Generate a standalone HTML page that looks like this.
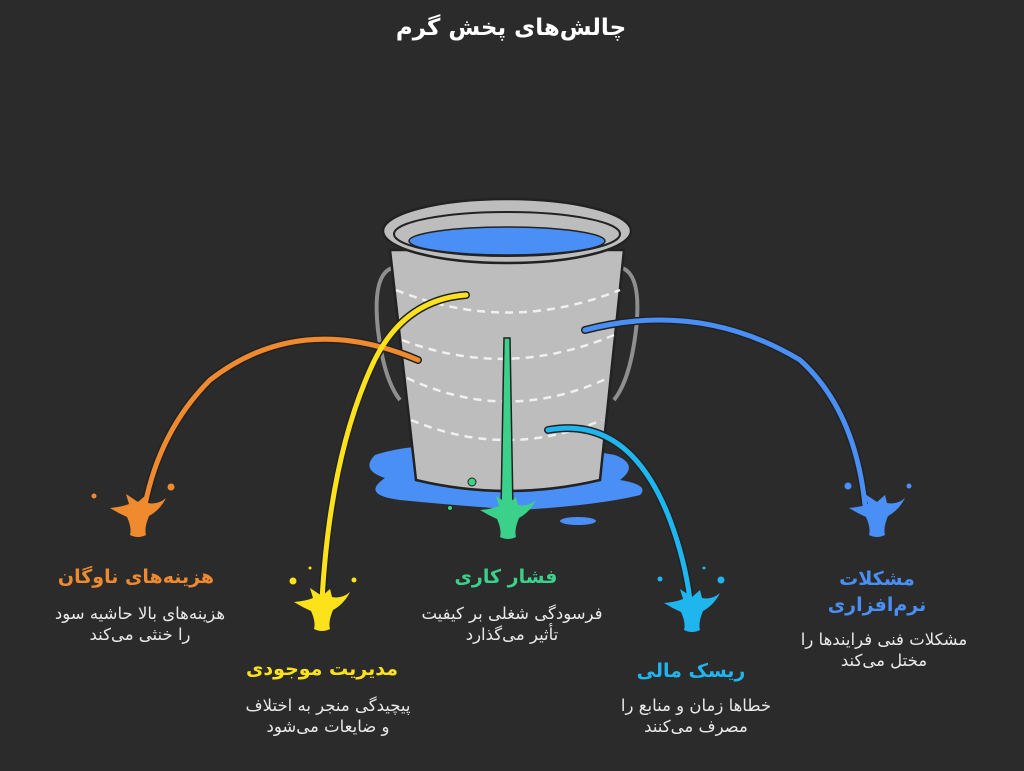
<!DOCTYPE html>
<html><head><meta charset="utf-8"><style>
html,body{margin:0;padding:0;background:#2b2b2b;}
body{width:1024px;height:771px;overflow:hidden;position:relative;font-family:"DejaVu Sans",sans-serif;}
.t{position:absolute;direction:rtl;text-align:center;white-space:nowrap;transform:translateX(-50%);}
.h{font-weight:bold;font-size:19px;}
.d{color:#e8e8e8;font-size:16.5px;line-height:21px;}
</style></head><body>
<svg width="1024" height="771" style="position:absolute;left:0;top:0">
<defs>
<path id="sp" d="M-28,0 Q-16,-1 -9,-4 L-12,-14 L-3,-8 L0,-6 L8,-13 L10,-5 Q20,-3 28,-10 Q22,2 11,8 Q6,20 8,27 Q0,31 -8,27 Q-6,20 -11,9 Q-20,5 -28,0 Z"/>
</defs>
<path d="M375,455 Q360,470 385,478 Q360,495 400,500 Q450,505 520,510 Q600,505 640,495 Q650,485 620,480 Q640,465 615,455 Q560,445 500,448 Q420,440 375,455 Z" fill="#4a8ff5"/>
<ellipse cx="578" cy="521" rx="18" ry="4" fill="#4a8ff5"/>
<path d="M392,268 Q372,275 378,330 Q384,380 400,400" fill="none" stroke="#8f8f8f" stroke-width="4"/>
<path d="M622,268 Q642,275 636,330 Q630,380 614,400" fill="none" stroke="#8f8f8f" stroke-width="4"/>
<path d="M390,250 L624,250 L600,480 Q507,502 416,480 Z" fill="#bdbdbd" stroke="#222" stroke-width="2.5"/>
<g fill="none" stroke="#f0f0f0" stroke-width="2.5" stroke-dasharray="8,6">
<path d="M396,290 Q507,335 620,290"/>
<path d="M402,340 Q507,380 614,335"/>
<path d="M407,378 Q507,425 608,378"/>
<path d="M411,420 Q507,460 602,420"/>
</g>
<ellipse cx="507" cy="231" rx="124" ry="32" fill="#bdbdbd" stroke="#222" stroke-width="2.5"/>
<ellipse cx="507" cy="234" rx="113" ry="22" fill="#bdbdbd" stroke="#222" stroke-width="2"/>
<ellipse cx="507" cy="241" rx="98" ry="14" fill="#4a8ff5" stroke="#222" stroke-width="1.5"/>
<circle cx="472" cy="482" r="4" fill="#3bd18a" stroke="#222"/>
<circle cx="450" cy="508" r="2.5" fill="#3bd18a" stroke="#222"/>
<g fill="none" stroke="#222" stroke-width="8" stroke-linecap="round">
<path d="M418,360 Q300,310 210,380 Q160,430 145,505"/>
<path d="M466,295 Q400,300 370,370 Q330,460 322,600"/>
<path d="M548,430 Q630,415 670,520 Q685,560 690,600"/>
<path d="M585,330 Q700,300 800,360 Q855,410 865,505"/>
</g>
<path d="M418,360 Q300,310 210,380 Q160,430 145,505" fill="none" stroke="#f08a2e" stroke-width="5" stroke-linecap="round"/>
<path d="M466,295 Q400,300 370,370 Q330,460 322,600" fill="none" stroke="#fce21b" stroke-width="5" stroke-linecap="round"/>
<path d="M504,338 L510,338 L513,510 L501,510 Z" fill="#3bd18a" stroke="#222" stroke-width="1.5"/>
<path d="M548,430 Q630,415 670,520 Q685,560 690,600" fill="none" stroke="#1fb5ef" stroke-width="5" stroke-linecap="round"/>
<path d="M585,330 Q700,300 800,360 Q855,410 865,505" fill="none" stroke="#4a8ff5" stroke-width="5" stroke-linecap="round"/>
<use href="#sp" x="138" y="508" fill="#f08a2e"/>
<circle cx="94" cy="496" r="2.5" fill="#f08a2e"/><circle cx="171" cy="487" r="3.5" fill="#f08a2e"/>
<use href="#sp" x="322" y="602" fill="#fce21b"/>
<circle cx="293" cy="581" r="3.5" fill="#fce21b"/><circle cx="354" cy="580" r="2.5" fill="#fce21b"/><circle cx="310" cy="568" r="1.5" fill="#fce21b"/>
<use href="#sp" x="508" y="510" fill="#3bd18a"/>
<use href="#sp" x="692" y="603" fill="#1fb5ef"/>
<circle cx="660" cy="579" r="2.5" fill="#1fb5ef"/><circle cx="721" cy="580" r="3.5" fill="#1fb5ef"/><circle cx="704" cy="568" r="1.5" fill="#1fb5ef"/>
<use href="#sp" x="877" y="508" fill="#4a8ff5"/>
<circle cx="848" cy="486" r="3.5" fill="#4a8ff5"/><circle cx="909" cy="486" r="2.5" fill="#4a8ff5"/>
</svg>
<div class="t" style="left:511px;top:15px;color:#fff;font-weight:bold;font-size:23px">چالش‌های پخش گرم</div>

<div class="t h" style="left:136px;top:566px;color:#f08a2e">هزینه‌های ناوگان</div>
<div class="t d" style="left:140px;top:603px">هزینه‌های بالا حاشیه سود<br>را خنثی می‌کند</div>

<div class="t h" style="left:322px;top:658px;color:#fce21b">مدیریت موجودی</div>
<div class="t d" style="left:328px;top:695px">پیچیدگی منجر به اختلاف<br>و ضایعات می‌شود</div>

<div class="t h" style="left:506px;top:566px;color:#3bd18a">فشار کاری</div>
<div class="t d" style="left:512px;top:603px">فرسودگی شغلی بر کیفیت<br>تأثیر می‌گذارد</div>

<div class="t h" style="left:691px;top:660px;color:#1fb5ef">ریسک مالی</div>
<div class="t d" style="left:696px;top:695px">خطاها زمان و منابع را<br>مصرف می‌کنند</div>

<div class="t h" style="left:877px;top:566px;color:#4a8ff5;line-height:26px">مشکلات<br>نرم‌افزاری</div>
<div class="t d" style="left:884px;top:629px">مشکلات فنی فرایندها را<br>مختل می‌کند</div>
</body></html>
